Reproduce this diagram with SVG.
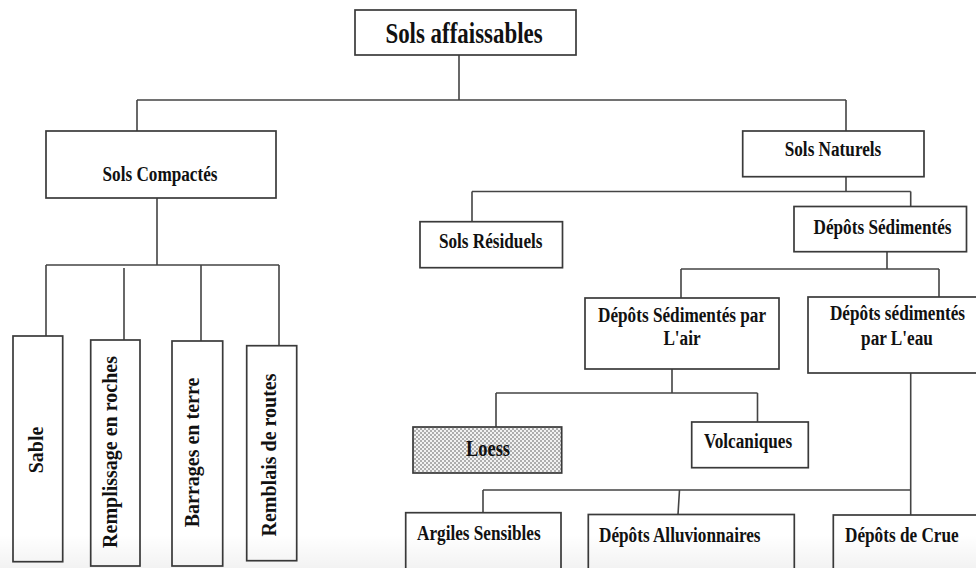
<svg xmlns="http://www.w3.org/2000/svg" width="976" height="568" viewBox="0 0 976 568">
<defs>
<pattern id="dots" width="4" height="4" patternUnits="userSpaceOnUse">
<rect width="4" height="4" fill="#f2f2f2"/>
<circle cx="1" cy="1" r="0.8" fill="#555"/>
<circle cx="3" cy="3" r="0.8" fill="#555"/>
</pattern>
<linearGradient id="haze" x1="0" y1="0" x2="0" y2="1">
<stop offset="0" stop-color="#000" stop-opacity="0"/>
<stop offset="1" stop-color="#000" stop-opacity="0.05"/>
</linearGradient>
<style>
.box{fill:#fff;stroke:#3a3a3a;stroke-width:1.7}
.conn{fill:none;stroke:#444;stroke-width:1.6}
text{font-family:"Liberation Serif","Times New Roman",serif;font-weight:bold;fill:#111;font-size:21.5px}
.c{text-anchor:middle}
.s{text-anchor:start}
.big{font-size:29px}
.v{font-size:20px}
</style>
</defs>
<rect width="976" height="568" fill="#fff"/>
<g id="connectors" class="conn">
<path d="M459,55 V100 M137,100 H846 M137,100 V131 M846,100 V131"/>
<path d="M157,198 V265 M46,265 H279 M46,265 V336 M124,268 V340 M201,265 V341 M279,265 V345.7"/>
<path d="M846,176.7 V191.5 M472,191.5 H910.7 M472,191.5 V221.7 M910.7,191.5 V206.5"/>
<path d="M887,251.7 V269 M681,269 H939 M681,269 V298 M939,269 V297"/>
<path d="M672,369 V393 M496,393 H757.5 M496,393 V427 M757.5,393 V422"/>
<path d="M910.7,373 V515 M483,490 H910.7 M483,490 V512.7 M679.5,490 L678,514.5"/>
</g>
<g id="sols-affaissables">
<rect class="box" x="355" y="10" width="221" height="45"/>
<text class="c big" transform="translate(464,42.5) scale(0.79,1)">Sols affaissables</text>
</g>
<g id="sols-compactes">
<rect class="box" x="46" y="131" width="230" height="67"/>
<text class="c" transform="translate(160,181) scale(0.8,1)">Sols Compactés</text>
</g>
<g id="sols-naturels">
<rect class="box" x="742.7" y="131" width="181.3" height="45.7"/>
<text class="c" transform="translate(833,156) scale(0.8,1)">Sols Naturels</text>
</g>
<g id="sols-residuels">
<rect class="box" x="420" y="221.7" width="142.5" height="46"/>
<text class="c" transform="translate(490.7,248.3) scale(0.8,1)">Sols Résiduels</text>
</g>
<g id="depots-sedimentes">
<rect class="box" x="794" y="206.5" width="172.5" height="45.2"/>
<text class="c" transform="translate(882.5,234) scale(0.8,1)">Dépôts Sédimentés</text>
</g>
<g id="depots-air">
<rect class="box" x="585" y="298" width="194" height="71"/>
<text class="c" transform="translate(682,321.7) scale(0.8,1)">Dépôts Sédimentés par</text>
<text class="c" transform="translate(682,345) scale(0.8,1)">L'air</text>
</g>
<g id="depots-eau">
<rect class="box" x="808" y="297" width="180" height="76"/>
<text class="c" transform="translate(897.5,320) scale(0.8,1)">Dépôts sédimentés</text>
<text class="c" transform="translate(897,345) scale(0.8,1)">par L'eau</text>
</g>
<g id="loess">
<rect class="box" x="413" y="427" width="148.7" height="46" style="fill:url(#dots)"/>
<text class="c" transform="translate(488,456) scale(0.8,1)" style="font-size:23px">Loess</text>
</g>
<g id="volcaniques">
<rect class="box" x="691.7" y="422" width="116.6" height="45.7"/>
<text class="c" transform="translate(748,448) scale(0.8,1)">Volcaniques</text>
</g>
<g id="sable">
<rect class="box" x="13" y="336" width="49.7" height="225.7"/>
<text class="c v" transform="translate(35.5,450) rotate(-90)" y="7">Sable</text>
</g>
<g id="remplissage">
<rect class="box" x="90.7" y="340" width="49.3" height="226"/>
<text class="c v" transform="translate(110,452) rotate(-90)" y="7">Remplissage en roches</text>
</g>
<g id="barrages">
<rect class="box" x="172" y="341" width="50.7" height="225"/>
<text class="c v" transform="translate(191.5,452.5) rotate(-90)" y="7">Barrages en terre</text>
</g>
<g id="remblais">
<rect class="box" x="246.7" y="345.7" width="50" height="215"/>
<text class="c v" transform="translate(268.5,455) rotate(-90)" y="7">Remblais de routes</text>
</g>
<g id="argiles">
<rect class="box" x="405.7" y="512.7" width="155.3" height="70"/>
<text class="s" transform="translate(417,540) scale(0.8,1)">Argiles Sensibles</text>
</g>
<g id="alluvionnaires">
<rect class="box" x="588.3" y="514.5" width="206" height="70"/>
<text class="s" transform="translate(599,541.5) scale(0.8,1)">Dépôts Alluvionnaires</text>
</g>
<g id="crue">
<rect class="box" x="833.3" y="515" width="160" height="70"/>
<text class="s" transform="translate(845,541.5) scale(0.8,1)">Dépôts de Crue</text>
</g>
<rect x="0" y="535" width="976" height="33" fill="url(#haze)"/>
</svg>
